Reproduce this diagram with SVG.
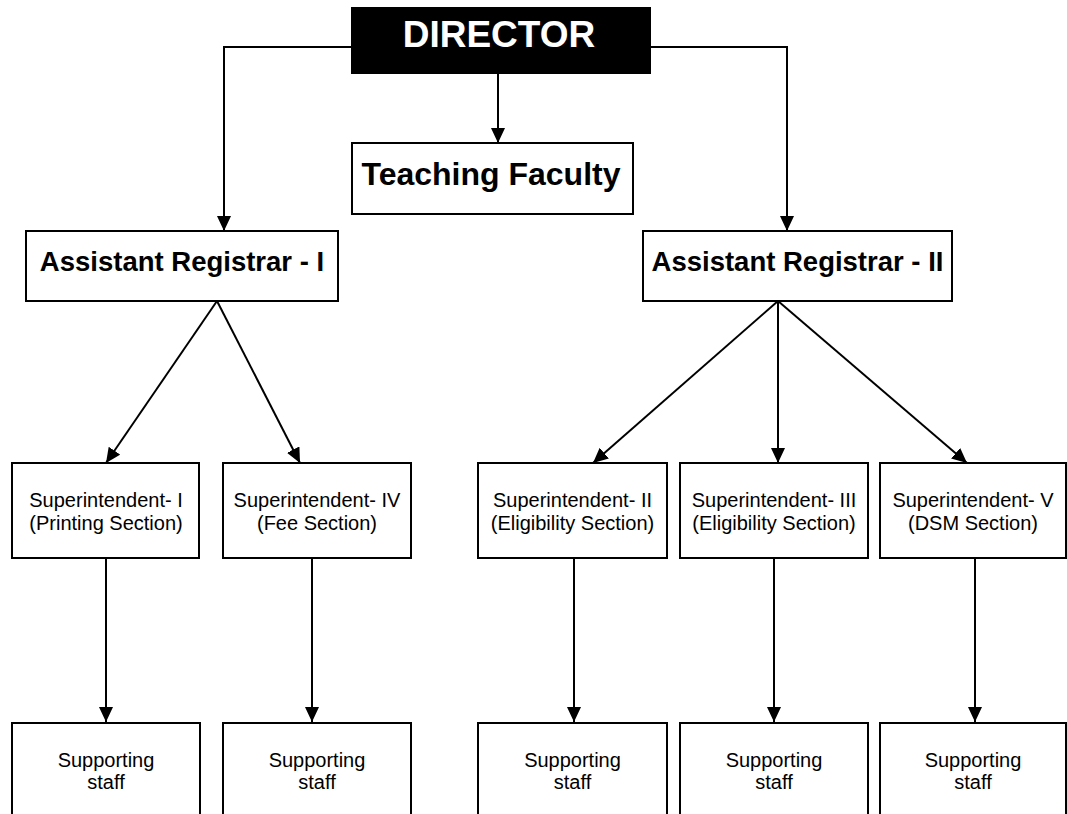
<svg xmlns="http://www.w3.org/2000/svg" width="1067" height="814" viewBox="0 0 1067 814">
<defs>
<marker id="ah" markerUnits="userSpaceOnUse" markerWidth="16" markerHeight="16" viewBox="0 0 16 16" refX="15" refY="7" orient="auto">
<path d="M0,0 L15,7 L0,14 Z" fill="#000"/>
</marker>
<style>
.box{fill:#fff;stroke:#000;stroke-width:2}
.dir{fill:#000;stroke:#000;stroke-width:2}
.conn{fill:none;stroke:#000;stroke-width:2;marker-end:url(#ah)}
.big{font-family:"Liberation Sans",Arial,sans-serif;font-weight:bold;text-anchor:middle;fill:#000}
.small{font-family:"Liberation Sans",Arial,sans-serif;font-size:20px;text-anchor:middle;fill:#000}
</style>
</defs>
<rect width="1067" height="814" fill="#fff"/>
<g id="connectors">
<path class="conn" d="M352,47 H224 V231"/>
<path class="conn" d="M650,47 H787 V231"/>
<path class="conn" d="M498,73 V143"/>
<path class="conn" d="M217,301 L106,463"/>
<path class="conn" d="M217,301 L300,463"/>
<path class="conn" d="M778,301 L593,463"/>
<path class="conn" d="M778,301 V463"/>
<path class="conn" d="M778,301 L967,463"/>
<path class="conn" d="M106,558 V722"/>
<path class="conn" d="M312,558 V722"/>
<path class="conn" d="M574,558 V722"/>
<path class="conn" d="M774,558 V722"/>
<path class="conn" d="M975,558 V722"/>
</g>
<g id="director">
<rect class="dir" x="352" y="8" width="298" height="65"/>
<text class="big" x="499" y="47" font-size="37" fill="#fff" style="fill:#fff">DIRECTOR</text>
</g>
<g id="teaching-faculty">
<rect class="box" x="352" y="143" width="281" height="71"/>
<text class="big" x="491" y="185" font-size="32">Teaching Faculty</text>
</g>
<g id="ar1">
<rect class="box" x="26" y="231" width="312" height="70"/>
<text class="big" x="182" y="271" font-size="27.5">Assistant Registrar - I</text>
</g>
<g id="ar2">
<rect class="box" x="643" y="231" width="309" height="70"/>
<text class="big" x="797.5" y="271" font-size="27.5">Assistant Registrar - II</text>
</g>
<g id="sup1">
<rect class="box" x="12" y="463" width="187" height="95"/>
<text class="small" x="106" y="507">Superintendent- I</text>
<text class="small" x="106" y="530">(Printing Section)</text>
</g>
<g id="sup4">
<rect class="box" x="223" y="463" width="188" height="95"/>
<text class="small" x="317" y="507">Superintendent- IV</text>
<text class="small" x="317" y="530">(Fee Section)</text>
</g>
<g id="sup2">
<rect class="box" x="478" y="463" width="189" height="95"/>
<text class="small" x="572.5" y="507">Superintendent- II</text>
<text class="small" x="572.5" y="530">(Eligibility Section)</text>
</g>
<g id="sup3">
<rect class="box" x="680" y="463" width="188" height="95"/>
<text class="small" x="774" y="507">Superintendent- III</text>
<text class="small" x="774" y="530">(Eligibility Section)</text>
</g>
<g id="sup5">
<rect class="box" x="880" y="463" width="186" height="95"/>
<text class="small" x="973" y="507">Superintendent- V</text>
<text class="small" x="973" y="530">(DSM Section)</text>
</g>
<g id="staff1">
<rect class="box" x="12" y="723" width="188" height="100"/>
<text class="small" x="106" y="767">Supporting</text>
<text class="small" x="106" y="789">staff</text>
</g>
<g id="staff2">
<rect class="box" x="223" y="723" width="188" height="100"/>
<text class="small" x="317" y="767">Supporting</text>
<text class="small" x="317" y="789">staff</text>
</g>
<g id="staff3">
<rect class="box" x="478" y="723" width="189" height="100"/>
<text class="small" x="572.5" y="767">Supporting</text>
<text class="small" x="572.5" y="789">staff</text>
</g>
<g id="staff4">
<rect class="box" x="680" y="723" width="188" height="100"/>
<text class="small" x="774" y="767">Supporting</text>
<text class="small" x="774" y="789">staff</text>
</g>
<g id="staff5">
<rect class="box" x="880" y="723" width="186" height="100"/>
<text class="small" x="973" y="767">Supporting</text>
<text class="small" x="973" y="789">staff</text>
</g>
</svg>
